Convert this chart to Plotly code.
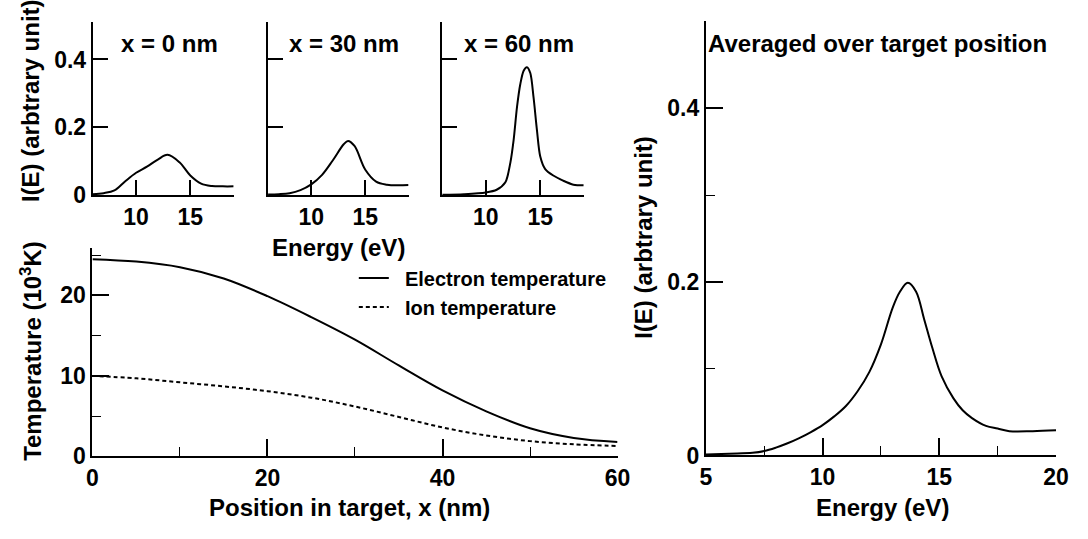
import plotly.graph_objects as go

W, H = 1088, 539

# ---------------- data ----------------
# Spectra at individual target positions (Energy in eV, I(E) arbitrary unit)
e_x0 = [6, 7, 8, 9, 10, 11, 12, 12.9, 14, 15, 16, 17, 18, 19]
i_x0 = [0.003, 0.006, 0.014, 0.041, 0.066, 0.084, 0.105, 0.119, 0.097, 0.058, 0.034, 0.027, 0.026, 0.026]

e_x30 = [6, 7, 8, 9, 10, 11, 12, 13, 13.4, 14, 15, 16, 17, 18, 19]
i_x30 = [0.002, 0.003, 0.006, 0.015, 0.032, 0.060, 0.103, 0.150, 0.160, 0.145, 0.075, 0.040, 0.031, 0.029, 0.030]

e_x60 = [6, 8, 10, 11, 11.8, 12.26, 12.56, 12.87, 13.17, 13.48, 13.78, 14.09, 14.39, 14.7, 15.0,
         15.46, 16.2, 17.1, 18.05, 19]
i_x60 = [0.001, 0.003, 0.008, 0.016, 0.038, 0.096, 0.163, 0.260, 0.327, 0.367, 0.377, 0.360, 0.288,
         0.192, 0.115, 0.077, 0.058, 0.043, 0.031, 0.029]

# Temperature profiles (position in nm, temperature in 10^3 K)
pos = [0, 5, 10, 15, 20, 25, 30, 35, 40, 45, 50, 55, 60]
t_electron = [24.5, 24.2, 23.5, 22.1, 19.9, 17.3, 14.5, 11.3, 8.2, 5.6, 3.5, 2.3, 1.8]
t_ion = [10.0, 9.7, 9.2, 8.7, 8.1, 7.3, 6.2, 4.9, 3.6, 2.6, 1.9, 1.5, 1.3]

# Spectrum averaged over target position
e_avg = [5, 6, 7, 7.5, 8, 8.5, 9, 9.5, 10, 10.5, 11, 11.5, 12, 12.5, 13, 13.3, 13.65, 14.0,
         14.35, 14.7, 15.1, 15.6, 16.0, 16.4, 17.0, 17.5, 18, 19, 20]
i_avg = [0.001, 0.002, 0.003, 0.005, 0.009, 0.014, 0.020, 0.027, 0.035, 0.045, 0.057, 0.074,
         0.096, 0.128, 0.170, 0.188, 0.199, 0.189, 0.157, 0.124, 0.091, 0.066, 0.052, 0.043,
         0.034, 0.031, 0.028, 0.028, 0.029]

panel_titles = ["x = 0 nm", "x = 30 nm", "x = 60 nm"]

# ---------------- helpers ----------------
FONT = "Liberation Sans, Arial, Helvetica, sans-serif"


def dx(a, b):
    return [a / W, b / W]


def dy(top, bottom):
    return [1 - bottom / H, 1 - top / H]


def axis_common(**kw):
    d = dict(
        showline=True, linecolor="black", linewidth=2, ticks="inside",
        tickcolor="black", tickwidth=2, showgrid=False, zeroline=False,
        tickfont=dict(family=FONT, size=23, color="black", weight="bold"),
        fixedrange=True,
    )
    d.update(kw)
    return d


fig = go.Figure()
line_style = dict(color="black", width=2, shape="spline", smoothing=1.0)

fig.add_trace(go.Scatter(x=e_x0, y=i_x0, mode="lines", line=line_style, xaxis="x", yaxis="y", showlegend=False))
fig.add_trace(go.Scatter(x=e_x30, y=i_x30, mode="lines", line=line_style, xaxis="x2", yaxis="y2", showlegend=False))
fig.add_trace(go.Scatter(x=e_x60, y=i_x60, mode="lines", line=dict(color="black", width=2, shape="spline", smoothing=0.8),
                         xaxis="x3", yaxis="y3", showlegend=False))

fig.add_trace(go.Scatter(x=pos, y=t_electron, mode="lines", name="\u00a0\u00a0Electron temperature",
                         line=dict(color="black", width=2, shape="spline", smoothing=1.0),
                         xaxis="x4", yaxis="y4", legendgroup="e"))
fig.add_trace(go.Scatter(x=pos, y=t_ion, mode="lines", name="\u00a0\u00a0Ion temperature",
                         line=dict(color="black", width=2, dash="4px,3px", shape="spline", smoothing=1.0),
                         xaxis="x4", yaxis="y4", legendgroup="i"))

fig.add_trace(go.Scatter(x=e_avg, y=i_avg, mode="lines", line=line_style, xaxis="x5", yaxis="y5", showlegend=False))

# top panels geometry (pixels)
top_x = [(88.3, 231.7), (266.7, 409.7), (444.0, 588.0)]
top_y = (22.7, 200.0)

layout = dict(
    width=W, height=H, margin=dict(l=0, r=0, t=0, b=0),
    paper_bgcolor="white", plot_bgcolor="white",
    font=dict(family=FONT, color="black"),
    showlegend=True,
    legend=dict(x=354 / W, y=1 - 265 / H, xanchor="left", yanchor="top",
                bgcolor="rgba(0,0,0,0)", tracegroupgap=0,
                font=dict(family=FONT, size=20, color="black", weight="bold")),
)

names = ["", "2", "3"]
for k, (x0, x1) in enumerate(top_x):
    n = names[k]
    layout["xaxis" + n] = axis_common(domain=dx(x0, x1), range=[6, 19], anchor="y" + n,
                                      tickvals=[10, 15], ticklen=15)
    layout["yaxis" + n] = axis_common(domain=dy(*top_y), range=[0, 0.51], anchor="x" + n,
                                      tickvals=[0, 0.2, 0.4], ticktext=["0", "0.2", "0.4"],
                                      ticklen=15, showticklabels=(k == 0))

layout["xaxis4"] = axis_common(domain=dx(88.0, 622.4), range=[0, 60], anchor="y4",
                               tickvals=[0, 20, 40, 60], ticklen=17,
                               minor=dict(tickvals=[10, 30, 50], ticklen=9, ticks="inside",
                                          tickcolor="black", tickwidth=1))
layout["yaxis4"] = axis_common(domain=dy(254.0, 467.7), range=[0, 25.9], anchor="x4",
                               tickvals=[0, 10, 20], ticklen=17,
                               minor=dict(tickvals=[5, 15, 25], ticklen=9, ticks="inside",
                                          tickcolor="black", tickwidth=1))
layout["xaxis5"] = axis_common(domain=dx(712.3, 1068.7), range=[5, 20], anchor="y5",
                               tickvals=[5, 10, 15, 20], ticklen=17,
                               minor=dict(tickvals=[7.5, 12.5, 17.5], ticklen=9, ticks="inside",
                                          tickcolor="black", tickwidth=1))
layout["yaxis5"] = axis_common(domain=dy(22.0, 466.7), range=[0, 0.5], anchor="x5",
                               tickvals=[0, 0.2, 0.4], ticktext=["0", "0.2", "0.4"], ticklen=17,
                               minor=dict(tickvals=[0.1, 0.3], ticklen=9, ticks="inside",
                                          tickcolor="black", tickwidth=1))

fig.update_layout(**layout)

tfont = dict(family=FONT, size=24, color="black", weight="bold")


def ann(text, px, py, angle=0, xanchor="center"):
    fig.add_annotation(text=text, x=px / W, y=1 - py / H, xref="paper", yref="paper",
                       showarrow=False, textangle=angle, font=tfont,
                       xanchor=xanchor, yanchor="middle", borderpad=0)


centers = [166, 343.7, 521.7]
for t, c in zip(panel_titles, centers):
    ann(t, c, 45)

ann("I(E) (arbtrary unit)", 25, 103, angle=-90)
ann("Energy (eV)", 338, 254)
ann("Temperature (10<sup>3</sup>K)", 26, 360, angle=-90)
ann("Position in target, x (nm)", 350, 520)
ann("I(E) (arbtrary unit)", 648, 243, angle=-90)
ann("Energy (eV)", 892, 520)
ann("Averaged over target position", 713, 45, xanchor="left")

fig.write_html("out.html")
